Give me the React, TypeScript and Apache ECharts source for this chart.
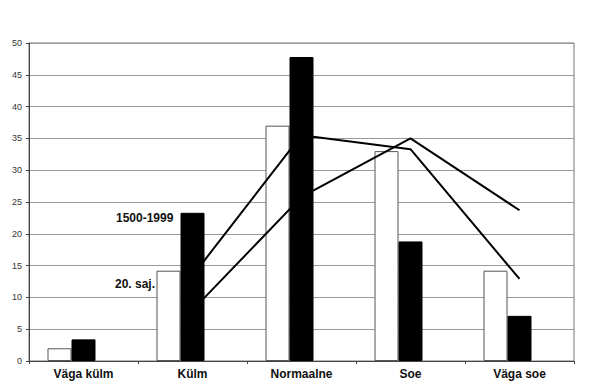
import React, { useEffect, useRef } from "react";
import * as echarts from "echarts";

const categories = ["Väga külm", "Külm", "Normaalne", "Soe", "Väga soe"];
const whiteBars = [2.0, 14.2, 37.0, 33.0, 14.2];
const blackBars = [3.4, 23.3, 47.8, 18.8, 7.1];
const emptyBars = [null, null, null, null, null];
const line1500 = [null, 13.4, 35.5, 33.3, 12.9];
const line20 = [null, 8.0, 25.8, 35.0, 23.7];
const yTicks = { min: 0, max: 50, interval: 5 };

export default function App() {
  const ref = useRef<HTMLDivElement>(null);
  useEffect(() => {
    if (!ref.current) return;
    const chart = echarts.init(ref.current, undefined, { renderer: "svg" });
    const font = "Liberation Sans, Arial, sans-serif";
    chart.setOption({
      animation: false,
      backgroundColor: "#ffffff",
      grid: {
        left: 29,
        right: 21,
        top: 43,
        bottom: 25,
        show: true,
        borderColor: "#777",
        borderWidth: 1,
      },
      xAxis: {
        type: "category",
        data: categories,
        axisLine: { lineStyle: { color: "#444", width: 1 } },
        axisTick: { show: true, length: 3, lineStyle: { color: "#444" } },
        axisLabel: {
          color: "#111",
          fontFamily: font,
          fontWeight: "bold",
          fontSize: 12,
          margin: 7,
        },
      },
      yAxis: {
        type: "value",
        min: yTicks.min,
        max: yTicks.max,
        interval: yTicks.interval,
        axisLine: { show: true, lineStyle: { color: "#444", width: 1 } },
        axisTick: { show: true, length: 3, lineStyle: { color: "#444" } },
        axisLabel: { color: "#333", fontFamily: font, fontSize: 9, margin: 7 },
        splitLine: { show: true, lineStyle: { color: "#999", width: 1 } },
      },
      series: [
        {
          type: "bar",
          name: "white",
          data: whiteBars,
          barWidth: 24,
          barGap: "0%",
          z: 2,
          itemStyle: { color: "#ffffff", borderColor: "#555", borderWidth: 1 },
        },
        {
          type: "bar",
          name: "black",
          data: blackBars,
          barWidth: 24,
          barGap: "0%",
          z: 4,
          itemStyle: { color: "#000000", borderColor: "#000", borderWidth: 1 },
        },
        {
          type: "bar",
          name: "empty",
          data: emptyBars,
          barWidth: 24,
          barGap: "0%",
        },
        {
          type: "line",
          name: "1500-1999",
          data: line1500,
          z: 3,
          showSymbol: false,
          symbol: "none",
          lineStyle: { color: "#000", width: 2 },
        },
        {
          type: "line",
          name: "20. saj.",
          data: line20,
          z: 3,
          showSymbol: false,
          symbol: "none",
          lineStyle: { color: "#000", width: 2 },
        },
      ],
      graphic: [
        {
          type: "text",
          left: 116,
          top: 212,
          style: {
            text: "1500-1999",
            fill: "#111",
            font: `bold 12px ${font}`,
          },
        },
        {
          type: "text",
          left: 115,
          top: 278,
          style: {
            text: "20. saj.",
            fill: "#111",
            font: `bold 12px ${font}`,
          },
        },
      ],
    });
    return () => chart.dispose();
  }, []);
  return (
    <div
      ref={ref}
      style={{ position: "absolute", left: 0, top: 0, width: 595, height: 386 }}
    />
  );
}
